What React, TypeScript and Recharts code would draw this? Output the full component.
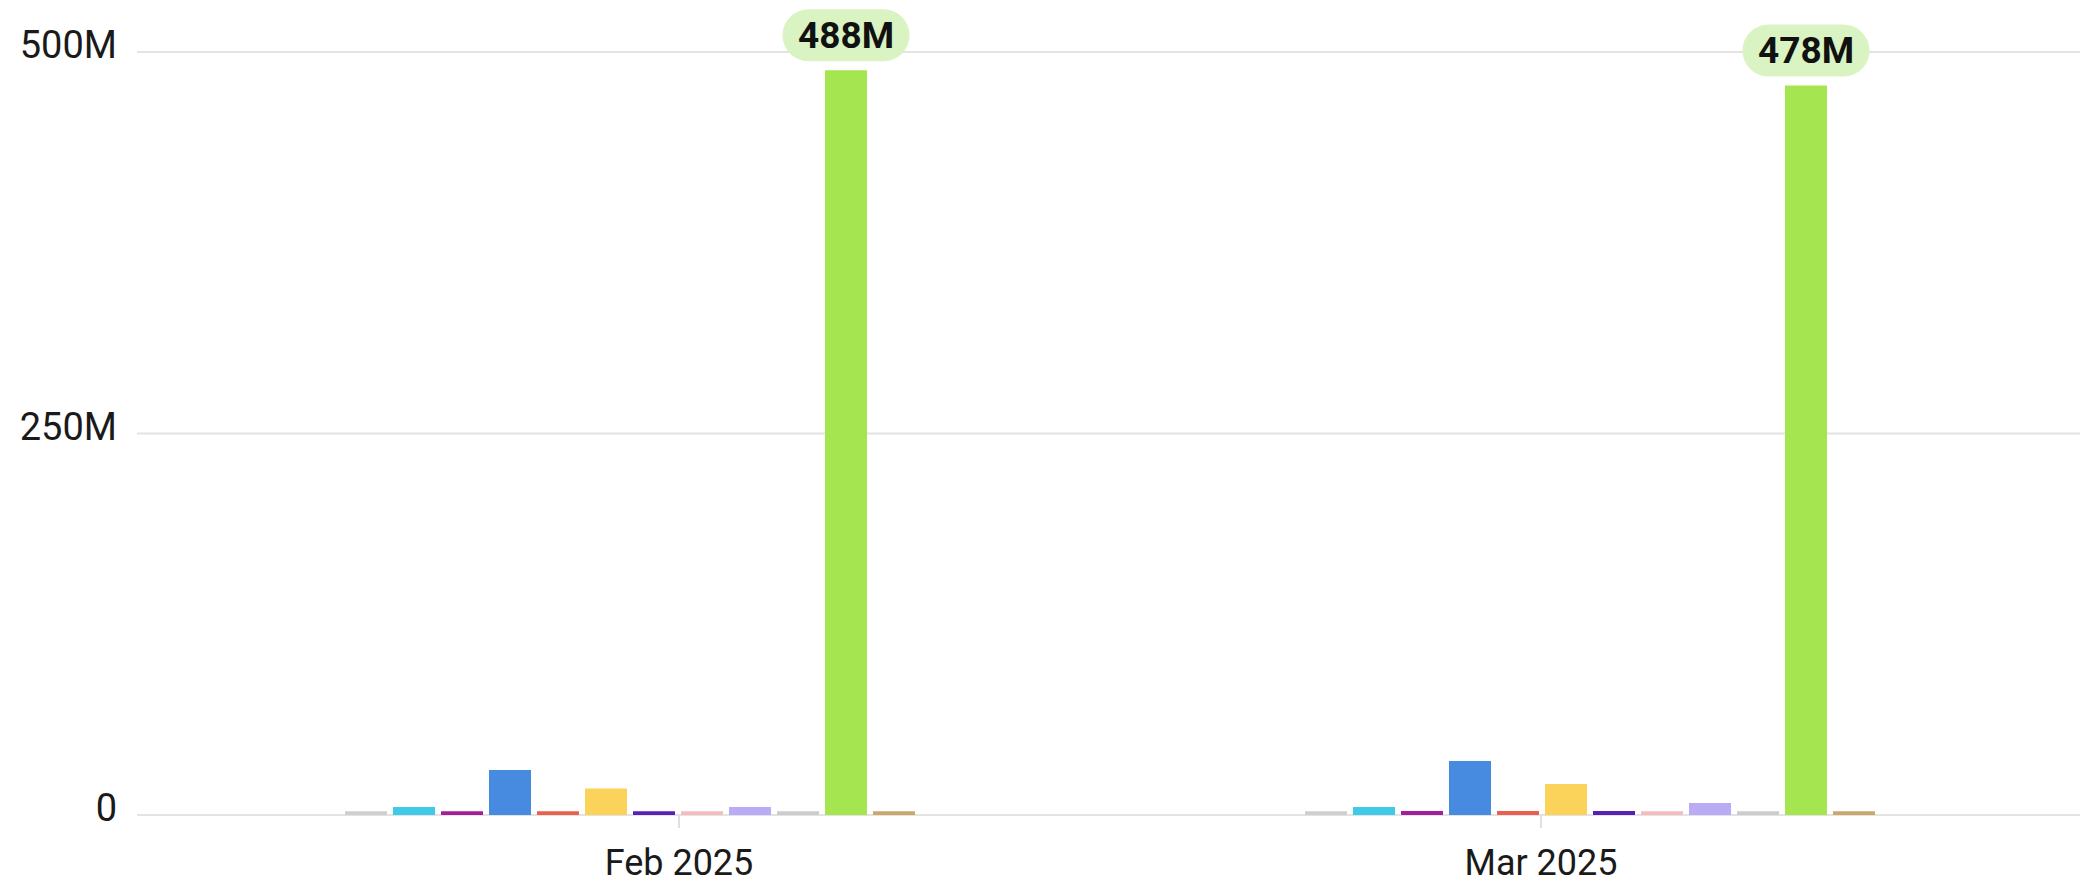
import React from 'react';
import { BarChart, Bar, XAxis, YAxis, CartesianGrid, LabelList } from 'recharts';

const months = ['Feb 2025', 'Mar 2025'];
const seriesKeys = ['s01', 's02', 's03', 's04', 's05', 's06', 's07', 's08', 's09', 's10', 's11', 's12'];
const seriesColors = [
  '#cfcfcf', '#3fcbe8', '#a41e9a', '#468be0', '#e9604f', '#fbd25a',
  '#5a1fb5', '#f6bcbc', '#b9acf5', '#cccccc', '#a5e550', '#c8a86b',
];
// values in millions
const febValues = [2.5, 5.2, 2.5, 29.5, 2.5, 17.3, 2.5, 2.5, 5.2, 2.5, 488, 2.5];
const marValues = [2.5, 5.2, 2.6, 35.4, 2.6, 20.3, 2.6, 2.5, 7.9, 2.5, 478, 2.5];
const yTicks = [0, 250, 500];
const labelledSeries = 's11';

const valuesByMonth = [febValues, marValues];
const data = months.map((m, i) => {
  const row: Record<string, any> = { month: m };
  seriesKeys.forEach((k, j) => {
    row[k] = valuesByMonth[i][j];
  });
  return row;
});

const fmt = (v: number) => (v === 0 ? '0' : `${v}M`);

const YTick = (props: any) => {
  const { x, y, payload } = props;
  return (
    <text
      x={x}
      y={y - 7}
      textAnchor="end"
      dominantBaseline="central"
      fontSize={38}
      fontFamily="Roboto"
      fill="#1a1a1a"
    >
      {fmt(payload.value)}
    </text>
  );
};

const PillLabel = (props: any) => {
  const { x, y, width, value } = props;
  const cx = x + width / 2;
  const cy = y - 35;
  return (
    <g>
      <rect x={cx - 63.5} y={cy - 26} width={127} height={52} rx={26} fill="#d9f4c2" />
      <text
        x={cx}
        y={cy}
        textAnchor="middle"
        dominantBaseline="central"
        fontSize={37}
        fontWeight={700}
        fontFamily="Roboto"
        fill="#111"
      >
        {`${value}M`}
      </text>
    </g>
  );
};

export default function App() {
  return (
    <div style={{ position: 'absolute', left: 0, top: 0, width: 2097, height: 885, background: '#fff', fontFamily: 'Roboto' }}>
      <BarChart
        width={2097}
        height={885}
        data={data}
        margin={{ top: 52, right: 17, bottom: 0, left: 0 }}
        barSize={42}
        barGap={6}
      >
        <CartesianGrid vertical={false} stroke="#e3e3e3" strokeWidth={2} xAxisId="bars" />
        <XAxis xAxisId="bars" dataKey="month" hide height={0} padding={{ left: 13, right: 10 }} />
        <XAxis
          xAxisId="labels"
          dataKey="month"
          height={70}
          padding={{ left: 111, right: 108 }}
          axisLine={false}
          tickLine={{ stroke: '#e0e0e0', strokeWidth: 2 }}
          tickSize={13}
          tickMargin={21}
          tick={{ fontSize: 36, fill: '#1a1a1a', fontFamily: 'Roboto' }}
        />
        <YAxis
          width={137}
          domain={[0, 500]}
          ticks={yTicks}
          axisLine={false}
          tickLine={false}
          tickSize={0}
          tickMargin={20}
          tick={<YTick />}
        />
        {seriesKeys.map((k, j) => (
          <Bar key={k} dataKey={k} xAxisId="bars" fill={seriesColors[j]} isAnimationActive={false}>
            {k === labelledSeries ? <LabelList dataKey={k} content={<PillLabel />} /> : null}
          </Bar>
        ))}
      </BarChart>
    </div>
  );
}
